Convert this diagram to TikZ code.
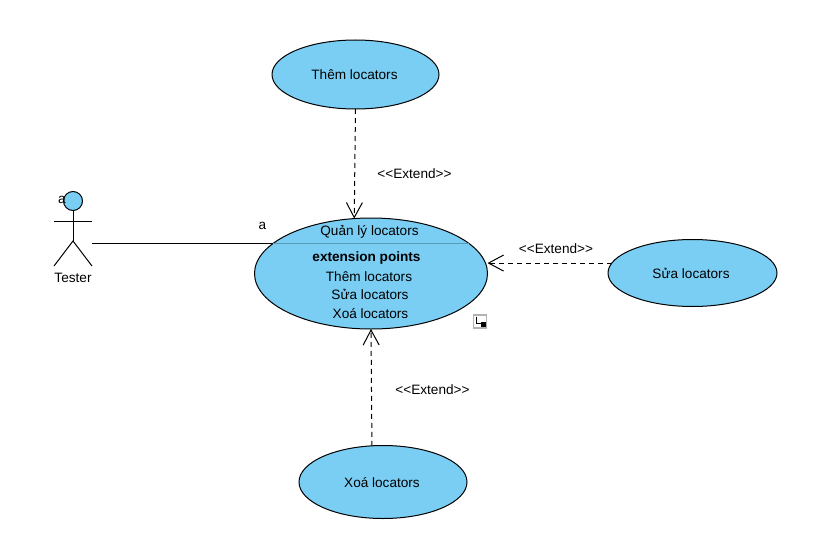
\documentclass[tikz,border=0pt]{standalone}
\usepackage{fontspec}
\setmainfont{Liberation Sans}
\usetikzlibrary{arrows.meta}
\usetikzlibrary{shapes.geometric}
\definecolor{usecaseblue}{HTML}{7ACEF4}
\tikzset{
  usecase/.style={ellipse, draw, fill=usecaseblue, line width=1pt, inner sep=0pt, outer sep=0pt, font=\fontsize{13.6}{15}\selectfont},
  label/.style={font=\fontsize{13.6}{15}\selectfont, inner sep=0pt},
  extend/.style={line width=1pt, dash pattern=on 5pt off 4pt, -{Straight Barb[length=15pt,width=16pt,line width=1pt]}}
}
\newcommand{\extendlabel}{{<}{<}Extend{>}{>}}

\begin{document}
\begin{tikzpicture}[x=1pt, y=-1pt]
    \useasboundingbox (0,0) rectangle (821,551);

    \node[usecase, minimum width=167pt, minimum height=69pt] (them) at (355.5,74.5) {};
    \node[usecase, minimum width=233pt, minimum height=111pt] (quanly) at (371,273.5) {};
    \node[usecase, minimum width=169pt, minimum height=67pt] (sua) at (692.5,273) {};
    \node[usecase, minimum width=168pt, minimum height=73pt] (xoa) at (383,482) {};
    \node[label] (themname) at (354.5,74.5) {Thêm locators};
    \node[label] (suaname) at (691,273.5) {Sửa locators};
    \node[label] (xoaname) at (382,482.5) {Xoá locators};

    \draw[color=usecaseblue!75!black, line width=0.4pt] (quanly.163) -- (quanly.17);
    \begin{scope}[label]
      \node[label] (quanlytitle) at (369.5,232) {Quản lý locators};
      \node[label, font=\fontsize{13.6}{15}\selectfont\bfseries] (points) at (366.5,258) {extension points};
      \node[label] (pointthem) at (369,276.5) {Thêm locators};
      \node[label] (pointsua) at (370,294.5) {Sửa locators};
      \node[label] (pointxoa) at (370.5,314) {Xoá locators};
    \end{scope}

    % actor
    \node[circle, draw, fill=usecaseblue, line width=1pt, minimum size=19pt, inner sep=0pt] (head) at (73,201) {};
    \coordinate (hip) at (73,241);
    \coordinate (handl) at (54,221);
    \coordinate (handr) at (92,221);
    \coordinate (footl) at (54,266);
    \coordinate (footr) at (92,266);
    \coordinate (tester) at (92,243);
    \draw[line width=1pt] (head.south) -- (hip);
    \draw[line width=1pt] (handl) -- (handr);
    \draw[line width=1pt] (footl) -- (hip) -- (footr);
    \node[label] (testerlabel) at (73,277.5) {Tester};
    \node[label] (rolea) at (62,200) {a};
    \node[label] (rolecase) at (262.5,226) {a};

    \draw[line width=1pt] (tester) -- (tester -| quanly.163);

    \draw[extend] (them.south) -- (quanly.107);
    \draw[extend] (xoa.107) -- (quanly.south);
    \draw[extend] (sua.173) -- (sua.173 -| quanly.east);

    \node[label] (extendthem) at (414.5,173.5) {\extendlabel};
    \node[label] (extendsua) at (556,248.5) {\extendlabel};
    \node[label] (extendxoa) at (432.5,389.5) {\extendlabel};

    % resize handle
    \node[draw=black!30, fill=white, line width=1.5pt, minimum size=13pt, inner sep=0pt] (handle) at (480,321.5) {};
    \coordinate (handlea) at (476.5,316.5);
    \coordinate (handleb) at (476.5,323);
    \coordinate (handlec) at (481,323);
    \draw[line width=0.8pt] (handlea) -- (handleb) -- (handlec);
    \node[fill=black, minimum size=5pt, inner sep=0pt] (handlebox) at (483,324) {};
\end{tikzpicture}
\end{document}
